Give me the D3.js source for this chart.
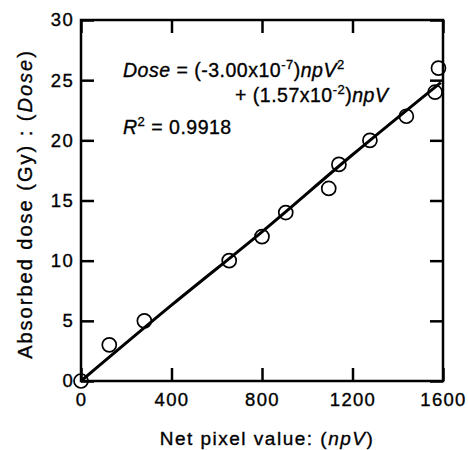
<!DOCTYPE html>
<html>
<head>
<meta charset="utf-8">
<script src="https://cdn.jsdelivr.net/npm/d3@7"></script>
<style>
  body { margin: 0; background: #fff; }
  svg text { font-family: "Liberation Sans", Arial, sans-serif; fill: #000; stroke: #000; stroke-width: 0.35px; }
</style>
</head>
<body>
<svg id="chart" width="468" height="450"></svg>
<script>
// measured points (net pixel value vs dose)
var npv = [0, 125, 280, 655, 800, 905, 1095, 1140, 1277, 1438, 1565, 1580];
var dose = [0, 3, 5, 10, 12, 14, 16, 18, 20, 22, 24, 26];

// fitted curve
var fitX = [0, 400, 800, 1200, 1590];
var fitY = [0, 6.3, 12.4, 18.8, 24.8];

var xTicks = [0, 400, 800, 1200, 1600];
var yTicks = [0, 5, 10, 15, 20, 25, 30];

var svg = d3.select('#chart');

// plot box (window.top is taken, so own names)
var pLeft = 81, pRight = 443, pTop = 20, pBottom = 381;
var tickLen = 13;

var x = d3.scaleLinear().domain([0, 1600]).range([pLeft, pRight]);
var y = d3.scaleLinear().domain([0, 30]).range([pBottom, pTop]);

// frame
svg.append('rect')
    .attr('x', pLeft).attr('y', pTop)
    .attr('width', pRight - pLeft).attr('height', pBottom - pTop)
    .attr('fill', 'none').attr('stroke', '#000').attr('stroke-width', 2.5);

// inward ticks on all four sides
var xAxisB = d3.axisBottom(x).tickValues(xTicks).tickFormat(d3.format('d'))
    .tickSizeInner(-tickLen).tickSizeOuter(0).tickPadding(12);
var xAxisT = d3.axisTop(x).tickValues(xTicks).tickSizeInner(-tickLen).tickSizeOuter(0).tickFormat('');
var yAxisL = d3.axisLeft(y).tickValues(yTicks).tickFormat(d3.format('d'))
    .tickSizeInner(-tickLen).tickSizeOuter(0).tickPadding(7);
var yAxisR = d3.axisRight(y).tickValues(yTicks).tickSizeInner(-tickLen).tickSizeOuter(0).tickFormat('');

var gB = svg.append('g').attr('transform', 'translate(0,' + pBottom + ')').call(xAxisB);
var gT = svg.append('g').attr('transform', 'translate(0,' + pTop + ')').call(xAxisT);
var gL = svg.append('g').attr('transform', 'translate(' + pLeft + ',0)').call(yAxisL);
var gR = svg.append('g').attr('transform', 'translate(' + pRight + ',0)').call(yAxisR);

[gB, gT, gL, gR].forEach(function (g) {
    g.select('.domain').remove();
    g.selectAll('.tick line').attr('stroke', '#000').attr('stroke-width', 2.5);
    g.selectAll('.tick text')
        .style('font-size', '18.5px')
        .style('letter-spacing', '1.3px')
        .attr('fill', '#000');
});
gB.selectAll('.tick text').attr('dy', '0.71em');

// fit line
svg.append('path')
    .datum(d3.zip(fitX, fitY))
    .attr('fill', 'none')
    .attr('stroke', '#000')
    .attr('stroke-width', 3)
    .attr('d', d3.line()
        .x(function (d) { return x(d[0]) })
        .y(function (d) { return y(d[1]) })
        .curve(d3.curveMonotoneX)
    );

// open circles
svg.selectAll('circle.pt')
    .data(d3.zip(npv, dose))
    .enter().append('circle')
    .attr('class', 'pt')
    .attr('cx', function (d) { return x(d[0]) })
    .attr('cy', function (d) { return y(d[1]) })
    .attr('r', 7)
    .attr('fill', 'none')
    .attr('stroke', '#000')
    .attr('stroke-width', 1.7);

// helper for text made of plain/italic/superscript pieces
function richText(sel, parts) {
    var up = 0;
    parts.forEach(function (p) {
        var t = sel.append('tspan').text(p.t);
        if (p.i) t.style('font-style', 'italic');
        if (p.sup && up === 0) { t.attr('dy', -8).style('font-size', '13px'); up = -8; }
        else if (p.sup) { t.style('font-size', '13px'); }
        else if (!p.sup && up !== 0) { t.attr('dy', -up); up = 0; }
    });
    return sel;
}

// equation
var eq = svg.append('g').style('font-size', '19.5px').style('letter-spacing', '0.5px');
richText(eq.append('text').attr('x', 123).attr('y', 77), [
    { t: 'Dose', i: true }, { t: ' = (-3.00x10' }, { t: '-7', sup: true }, { t: ')' },
    { t: 'npV', i: true }, { t: '2', sup: true }
]);
richText(eq.append('text').attr('x', 235).attr('y', 101.7), [
    { t: '+ (1.57x10' }, { t: '-2', sup: true }, { t: ')' }, { t: 'npV', i: true }
]);
richText(eq.append('text').attr('x', 123).attr('y', 134), [
    { t: 'R', i: true }, { t: '2', sup: true }, { t: ' = 0.9918' }
]);

// axis titles
richText(svg.append('text')
    .attr('x', 267).attr('y', 445)
    .attr('text-anchor', 'middle')
    .style('font-size', '19px')
    .style('letter-spacing', '1.5px'), [
    { t: 'Net pixel value: (' }, { t: 'npV', i: true }, { t: ')' }
]);

richText(svg.append('text')
    .attr('transform', 'translate(32,204) rotate(-90)')
    .attr('text-anchor', 'middle')
    .style('font-size', '20px')
    .style('letter-spacing', '2px'), [
    { t: 'Absorbed dose (Gy) : (' }, { t: 'Dose', i: true }, { t: ')' }
]);
</script>
</body>
</html>
